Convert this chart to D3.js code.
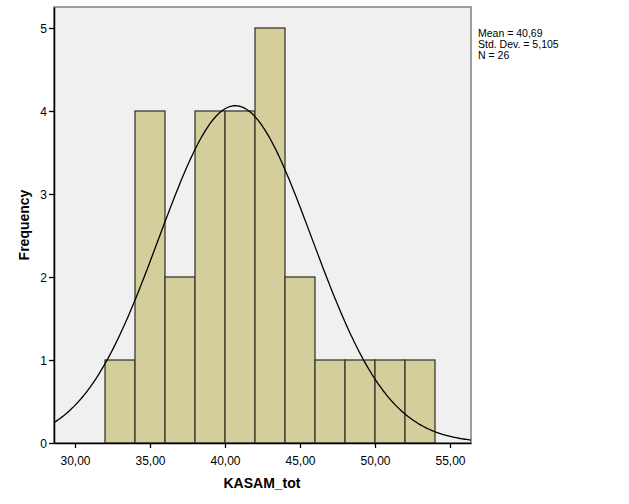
<!DOCTYPE html>
<html><head><meta charset="utf-8">
<script src="https://cdn.jsdelivr.net/npm/d3@7"></script>
<style>body{margin:0;background:#fff}svg{display:block}text{font-family:Arial,"Liberation Sans",sans-serif}</style>
</head><body>
<svg id="c" width="629" height="504"></svg>
<script>
const binStarts = [32, 34, 36, 38, 40, 42, 44, 46, 48, 50, 52];
const counts = [1, 4, 2, 4, 4, 5, 2, 1, 1, 1, 1];
const binWidth = 2;
const xTicks = [30, 35, 40, 45, 50, 55];
const yTicks = [0, 1, 2, 3, 4, 5];
const mean = 40.69, sd = 5.105, n = 26;
const statLines = ["Mean = 40,69", "Std. Dev. = 5,105", "N = 26"];

const svg = d3.select("#c");
const L = 54, R = 471, T = 7, B = 443;
const x = d3.scaleLinear().domain([28.6, 56.4]).range([L, R]);
const y = d3.scaleLinear().domain([0, 5.253]).range([B, T]);

svg.append("rect").attr("x", L).attr("y", T).attr("width", R - L).attr("height", B - T)
  .attr("fill", "#f0f0f0").attr("stroke", "#808080").attr("stroke-width", 1.5);

svg.selectAll("rect.bar").data(binStarts).enter().append("rect").attr("class", "bar")
  .attr("x", d => x(d)).attr("width", d => x(d + binWidth) - x(d))
  .attr("y", (d, i) => y(counts[i])).attr("height", (d, i) => y(0) - y(counts[i]))
  .attr("fill", "#d3ce9c").attr("stroke", "#3c3a28").attr("stroke-width", 1.3);

const curve = d3.range(28.6, 56.41, 0.1).map(v => [v, n * binWidth * Math.exp(-0.5 * ((v - mean) / sd) ** 2) / (sd * Math.sqrt(2 * Math.PI))]);
svg.append("path").datum(curve)
  .attr("d", d3.line().x(d => x(d[0])).y(d => y(d[1])))
  .attr("fill", "none").attr("stroke", "#000").attr("stroke-width", 1.3);

const fmt = v => v.toFixed(2).replace(".", ",");
const xa = svg.append("g").attr("transform", `translate(0,${B})`)
  .call(d3.axisBottom(x).tickValues(xTicks).tickFormat(fmt).tickSize(5).tickSizeOuter(0));
const ya = svg.append("g").attr("transform", `translate(${L},0)`)
  .call(d3.axisLeft(y).tickValues(yTicks).tickFormat(d3.format("d")).tickSize(5).tickSizeOuter(0));
[xa, ya].forEach(a => {
  a.select(".domain").attr("stroke", "#000").attr("stroke-width", 1.5);
  a.selectAll(".tick line").attr("stroke", "#000").attr("stroke-width", 1.3);
  a.selectAll("text").attr("fill", "#000").attr("font-size", 12).attr("font-family", "Arial, 'Liberation Sans', sans-serif");
});
xa.selectAll("text").attr("dy", "1.2em");
ya.selectAll("text").attr("dy", "0.35em").attr("x", -7);

svg.append("text").attr("x", 262).attr("y", 488).attr("text-anchor", "middle")
  .attr("font-size", 14).attr("font-weight", "bold").text("KASAM_tot");
svg.append("text").attr("transform", "translate(29,225) rotate(-90)").attr("text-anchor", "middle")
  .attr("font-size", 14).attr("font-weight", "bold").text("Frequency");

svg.append("g").selectAll("text").data(statLines).enter().append("text")
  .attr("x", 478).attr("y", (d, i) => 37 + i * 11).attr("font-size", 10.5).text(d => d);
</script>
</body></html>
